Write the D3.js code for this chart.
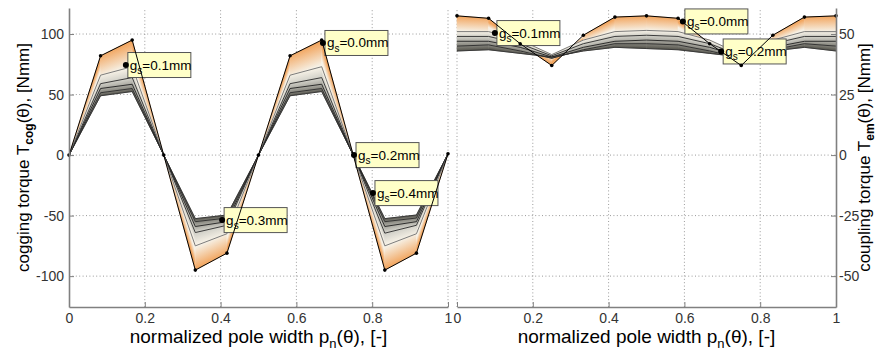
<!DOCTYPE html>
<html><head><meta charset="utf-8">
<script src="https://cdn.jsdelivr.net/npm/d3@7"></script>
<style>body{margin:0;background:#fff;overflow:hidden}</style>
</head><body>
<svg id="c" width="881" height="354"></svg>
<script>
// ---------- data ----------
const polePositions = [0, 0.0833, 0.1667, 0.25, 0.3333, 0.4167, 0.5, 0.5833, 0.6667, 0.75, 0.8333, 0.9167, 1];
const gapLevels = ["0.0", "0.1", "0.2", "0.3", "0.4", "0.5"];
// cogging torque [Nmm], one row per gap level gs
const coggingGs00 = [0, 82, 95, 0, -95, -81, 0, 82, 95, 0, -95, -81, 1];
const coggingGs01 = [0, 66, 73, 0, -75, -65, 0, 66, 73, 0, -75, -65, 1];
const coggingGs02 = [0, 59, 64, 0, -64, -58, 0, 59, 64, 0, -64.5, -58, 1];
const coggingGs03 = [0, 55, 58.5, 0, -59, -55, 0, 55, 58.5, 0, -59, -55, 1];
const coggingGs04 = [0, 51.5, 55, 0, -55, -52, 0, 51.5, 55, 0, -55, -52, 1];
const coggingGs05 = [0, 49, 52.5, 0, -52.5, -49.5, 0, 49, 52.5, 0, -52.5, -49.5, 1];
// coupling torque [Nmm]
const couplingGs00 = [57.5, 56.5, 46, 37, 49.5, 57, 57.5, 56.5, 46, 37, 49.5, 57, 57.5];
const couplingGs01 = [51, 51, 47.5, 41.5, 47.5, 51, 51.5, 51, 47.5, 41.5, 47.5, 51, 51];
const couplingGs02 = [49, 49, 46, 41, 46, 49, 49.5, 49, 46, 41, 46, 49, 49];
const couplingGs03 = [47, 47, 44.5, 40.5, 44.5, 47, 47.5, 47, 44.5, 40.5, 44.5, 47, 47];
const couplingGs04 = [45, 45.5, 43, 40, 43.5, 46, 46, 45.5, 43, 40, 43.5, 46, 45];
const couplingGs05 = [43, 43.5, 42, 40.5, 43, 44.5, 44, 43.5, 42, 40.5, 43, 44.5, 43];
// ticks
const xTicks = [0, 0.2, 0.4, 0.6, 0.8, 1];
const coggingTicks = [-100, -50, 0, 50, 100];
const couplingTicks = [-50, -25, 0, 25, 50];
// data tips
const coggingTipGs = ["0.1", "0.0", "0.2", "0.3", "0.4"];
const coggingTipX = [0.150, 0.670, 0.752, 0.404, 0.802];
const coggingTipY = [74.4, 92.6, 0, -53.7, -31.4];
const couplingTipGs = ["0.1", "0.0", "0.2"];
const couplingTipX = [0.100, 0.596, 0.697];
const couplingTipY = [50.4, 55.2, 42.8];

const coggingSeries = [coggingGs00, coggingGs01, coggingGs02, coggingGs03, coggingGs04, coggingGs05];
const couplingSeries = [couplingGs00, couplingGs01, couplingGs02, couplingGs03, couplingGs04, couplingGs05];

// ---------- style ----------
const levelColors = ["#f2a660", "#f6f1e6", "#d2d1c9", "#acaba3", "#85847c", "#55544c"];
const lineColors = ["#000", "#6e6e6e", "#2a2a2a", "#1e1e1e", "#2a2a2a", "#333"];
const fTick = '"Liberation Sans Narrow","Arial Narrow",sans-serif';
const fText = '"Liberation Sans",Arial,sans-serif';
const TOP = 8, BOTTOM = 307;

const svg = d3.select("#c");
const defs = svg.append("defs");

function subText(sel, parts) {
  let shift = 0;
  parts.forEach(p => {
    const ts = sel.append("tspan").text(p.t);
    if (p.sub) {
      ts.attr("font-size", p.size).attr("dy", p.dy - shift);
      if (p.bold) ts.attr("font-weight", "bold");
      shift = p.dy;
    } else {
      if (shift) ts.attr("dy", -shift);
      shift = 0;
    }
  });
}

function panel(o) {
  const x = d3.scaleLinear().domain([0, 1]).range([o.x0, o.x1]);
  const y = d3.scaleLinear().domain(o.yDomain).range([BOTTOM, TOP]);
  const g = svg.append("g");

  // grid
  const gx = xTicks.filter(t => o.side === "left" ? t > 0 : t < 1);
  g.append("g").selectAll("line").data(gx).join("line")
    .attr("x1", d => x(d)).attr("x2", d => x(d)).attr("y1", BOTTOM).attr("y2", TOP)
    .attr("stroke", "#9a9a9a").attr("stroke-dasharray", "1,2.4");
  g.append("g").selectAll("line").data(o.yTicks).join("line")
    .attr("x1", o.x0).attr("x2", o.x1).attr("y1", d => y(d)).attr("y2", d => y(d))
    .attr("stroke", "#9a9a9a").attr("stroke-dasharray", "1,2.4");

  // shaded bands between consecutive gap levels
  const S = o.series;
  const bands = g.append("g");
  for (let i = 0; i < S.length - 1; i++) {
    for (let j = 0; j < polePositions.length - 1; j++) {
      const p0 = [x(polePositions[j]), y(S[i][j])];
      const p1 = [x(polePositions[j + 1]), y(S[i][j + 1])];
      const p2 = [x(polePositions[j + 1]), y(S[i + 1][j + 1])];
      const p3 = [x(polePositions[j]), y(S[i + 1][j])];
      let dx = ((p1[0] - p0[0]) + (p2[0] - p3[0])) / 2;
      let dy = ((p1[1] - p0[1]) + (p2[1] - p3[1])) / 2;
      const L = Math.hypot(dx, dy) || 1;
      const nx = -dy / L, ny = dx / L;
      const m0 = [(p0[0] + p1[0]) / 2, (p0[1] + p1[1]) / 2];
      const m1 = [(p3[0] + p2[0]) / 2, (p3[1] + p2[1]) / 2];
      let d = (m1[0] - m0[0]) * nx + (m1[1] - m0[1]) * ny;
      if (Math.abs(d) < 0.6) d = d < 0 ? -0.6 : 0.6;
      const id = `${o.id}_${i}_${j}`;
      const lg = defs.append("linearGradient").attr("id", id)
        .attr("gradientUnits", "userSpaceOnUse")
        .attr("x1", m0[0]).attr("y1", m0[1])
        .attr("x2", m0[0] + nx * d).attr("y2", m0[1] + ny * d);
      lg.append("stop").attr("offset", 0).attr("stop-color", levelColors[i]);
      lg.append("stop").attr("offset", 1).attr("stop-color", levelColors[i + 1]);
      bands.append("path")
        .attr("d", "M" + [p0, p1, p2, p3].map(p => p.join(",")).join("L") + "Z")
        .attr("fill", `url(#${id})`).attr("stroke", `url(#${id})`).attr("stroke-width", 0.6);
    }
  }

  const line = d3.line().x((d, k) => x(polePositions[k])).y(d => y(d));
  // inner lines
  for (let i = S.length - 1; i >= 1; i--) {
    g.append("path").attr("d", line(S[i])).attr("fill", "none")
      .attr("stroke", lineColors[i]).attr("stroke-width", 0.9);
  }

  // data tips
  const tips = g.append("g");
  o.tipX.forEach((tx, k) => {
    const mx = x(tx), my = y(o.tipY[k]);
    tips.append("rect").attr("x", mx + 2).attr("y", my - 12.5).attr("width", 63).attr("height", 25)
      .attr("fill", "#ffffc8").attr("stroke", "#555").attr("stroke-width", 1);
    const t = tips.append("text").attr("x", mx + 4).attr("y", my + 4.5)
      .attr("font-family", fText).attr("font-size", 13.5).attr("fill", "#000");
    subText(t, [{t: "g"}, {t: "s", sub: true, size: 10, dy: 4.5}, {t: "=" + o.tipGs[k] + "mm"}]);
    tips.append("circle").attr("cx", mx).attr("cy", my).attr("r", 3).attr("fill", "#000");
  });

  // outer line with markers
  g.append("path").attr("d", line(S[0])).attr("fill", "none").attr("stroke", "#000").attr("stroke-width", 1);
  g.append("g").selectAll("circle").data(S[0]).join("circle")
    .attr("cx", (d, k) => x(polePositions[k])).attr("cy", d => y(d)).attr("r", 1.8).attr("fill", "#000");

  // axes
  const ax = g.append("g").attr("transform", `translate(0,${BOTTOM})`)
    .call(d3.axisBottom(x).tickValues(xTicks).tickFormat(d3.format("~g")).tickSizeInner(-5).tickSizeOuter(0).tickPadding(6));
  const ay = o.side === "left"
    ? g.append("g").attr("transform", `translate(${o.x0},0)`).call(d3.axisLeft(y).tickValues(o.yTicks).tickSizeInner(-5).tickSizeOuter(0).tickPadding(5))
    : g.append("g").attr("transform", `translate(${o.x1},0)`).call(d3.axisRight(y).tickValues(o.yTicks).tickSizeInner(-5).tickSizeOuter(0).tickPadding(3));
  [ax, ay].forEach(a => {
    a.select(".domain").attr("stroke", "#808080").attr("stroke-width", 1.6);
    a.selectAll(".tick line").attr("stroke", "#808080").attr("stroke-width", 1);
    a.selectAll(".tick text").attr("font-family", fTick).attr("font-size", 14).attr("fill", "#333");
  });
  ay.selectAll(".tick text").text(d => String(d));

  // x title
  const xt = g.append("text").attr("x", (o.x0 + o.x1) / 2).attr("y", 343).attr("text-anchor", "middle")
    .attr("font-family", fTick).attr("font-size", 19).attr("fill", "#000");
  subText(xt, [{t: "normalized pole width p"}, {t: "n", sub: true, size: 13, dy: 5}, {t: "(θ), [-]"}]);

  // y title
  const yx = o.side === "left" ? 29 : 870;
  const yt = g.append("text").attr("transform", `translate(${yx},${(TOP + BOTTOM) / 2}) rotate(-90)`)
    .attr("text-anchor", "middle").attr("font-family", fText).attr("font-size", 17).attr("fill", "#000");
  subText(yt, [{t: o.yLabel + " T"}, {t: o.ySub, sub: true, size: 12, dy: 4, bold: true}, {t: "(θ), [Nmm]"}]);
}

panel({id: "cog", side: "left", x0: 69, x1: 448, yDomain: [-125.5, 121.5], yTicks: coggingTicks,
  series: coggingSeries, tipX: coggingTipX, tipY: coggingTipY, tipGs: coggingTipGs,
  yLabel: "cogging torque", ySub: "cog"});
panel({id: "cpl", side: "right", x0: 457, x1: 836, yDomain: [-62.75, 60.75], yTicks: couplingTicks,
  series: couplingSeries, tipX: couplingTipX, tipY: couplingTipY, tipGs: couplingTipGs,
  yLabel: "coupling torque", ySub: "em"});
</script>
</body></html>
